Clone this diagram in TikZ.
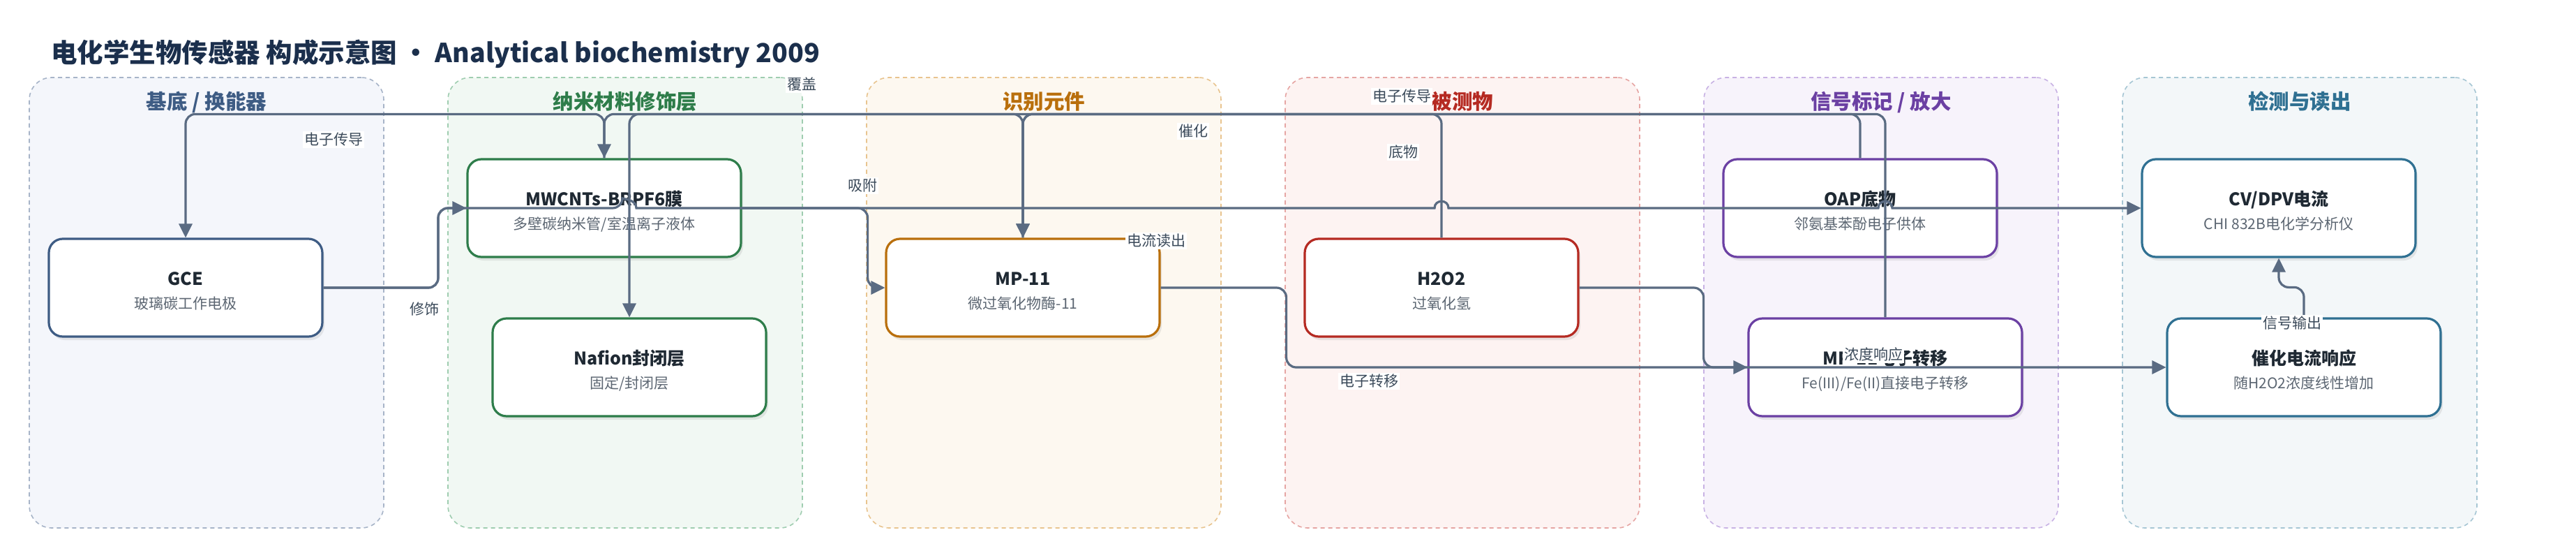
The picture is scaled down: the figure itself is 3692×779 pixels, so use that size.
\documentclass[tikz,border=0pt]{standalone}
\usepackage{fontspec}
\setmainfont{Noto Sans CJK SC}
\usetikzlibrary{arrows.meta,shadows}

\definecolor{ink}{HTML}{1B2F4C}
\definecolor{nodetxt}{HTML}{1F2933}
\definecolor{subtxt}{HTML}{5C6672}
\definecolor{lbltxt}{HTML}{3B4A5A}
\definecolor{edgec}{HTML}{5A6B82}
\definecolor{baseC}{HTML}{3E5C84}\definecolor{baseF}{HTML}{F4F6FB}\definecolor{baseD}{HTML}{A7B4C8}
\definecolor{nanoC}{HTML}{2E7D4A}\definecolor{nanoF}{HTML}{F1F8F3}\definecolor{nanoD}{HTML}{9FCDB0}
\definecolor{recoC}{HTML}{B96F0C}\definecolor{recoF}{HTML}{FDF8F0}\definecolor{recoD}{HTML}{E8C48F}
\definecolor{anaC}{HTML}{B52A22}\definecolor{anaF}{HTML}{FDF3F2}\definecolor{anaD}{HTML}{E6A5A3}
\definecolor{sigC}{HTML}{6B40A3}\definecolor{sigF}{HTML}{F7F3FB}\definecolor{sigD}{HTML}{C8B2E4}
\definecolor{detC}{HTML}{2F7092}\definecolor{detF}{HTML}{F3F7F9}\definecolor{detD}{HTML}{A6C6D4}

\tikzset{
  lane/.style 2 args={draw=#1, fill=#2, dash pattern=on 6pt off 5pt, line width=1.6,
    rounded corners=32, minimum width=508, minimum height=645},
  lanettl/.style={font=\fontsize{29.5}{33}\selectfont\bfseries, text=#1, anchor=base, inner sep=0},
  box/.style={draw=#1, fill=white, line width=3.2, rounded corners=20,
    minimum width=392, minimum height=140,
    drop shadow={opacity=0.16, shadow xshift=3pt, shadow yshift=-5pt}},
  ttl/.style={font=\fontsize{25}{30}\selectfont\bfseries, text=nodetxt, anchor=base, inner sep=0},
  sub/.style={font=\fontsize{21}{25}\selectfont, text=subtxt, anchor=base, inner sep=0},
  flow/.style={draw=edgec, line width=3.2, rounded corners=14, -{Triangle[length=20pt,width=19pt]}},
  lbl/.style={font=\fontsize{21}{25}\selectfont, text=lbltxt, fill=white, inner sep=2pt},
}

\begin{document}
\begin{tikzpicture}[x=1pt, y=-1pt]
  \fill[white] (0,0) rectangle (3692,779);
  \useasboundingbox (0,0) rectangle (3692,779);

  \node[font=\fontsize{37.5}{42}\selectfont\bfseries, text=ink, anchor=base west, inner sep=0] (title) at (73,89)
    {电化学生物传感器 构成示意图 · Analytical biochemistry 2009};

  % lanes
  \node[lane={baseD}{baseF}] (lane1) at (296,433.5) {};
  \node[lane={nanoD}{nanoF}] (lane2) at (896,433.5) {};
  \node[lane={recoD}{recoF}] (lane3) at (1496,433.5) {};
  \node[lane={anaD}{anaF}] (lane4) at (2096,433.5) {};
  \node[lane={sigD}{sigF}] (lane5) at (2696,433.5) {};
  \node[lane={detD}{detF}] (lane6) at (3296,433.5) {};
  \node[lanettl=baseC] (lane1-t) at (296,156) {基底 / 换能器};
  \node[lanettl=nanoC] (lane2-t) at (896,156) {纳米材料修饰层};
  \node[lanettl=recoC] (lane3-t) at (1496,156) {识别元件};
  \node[lanettl=anaC] (lane4-t) at (2096,156) {被测物};
  \node[lanettl=sigC] (lane5-t) at (2696,156) {信号标记 / 放大};
  \node[lanettl=detC] (lane6-t) at (3296,156) {检测与读出};

  % components
  \node[box=baseC] (gce) at (266,412) {};
  \node[ttl] (gce-t) at ([yshift=4pt]gce.center) {GCE};
  \node[sub] (gce-s) at ([yshift=-30pt]gce.center) {玻璃碳工作电极};

  \node[box=nanoC] (mw) at (866,298) {};
  \node[ttl] (mw-t) at ([yshift=4pt]mw.center) {MWCNTs-BRPF6膜};
  \node[sub] (mw-s) at ([yshift=-30pt]mw.center) {多壁碳纳米管/室温离子液体};

  \node[box=nanoC] (naf) at (902,526) {};
  \node[ttl] (naf-t) at ([yshift=4pt]naf.center) {Nafion封闭层};
  \node[sub] (naf-s) at ([yshift=-30pt]naf.center) {固定/封闭层};

  \node[box=recoC] (mp) at (1466,412) {};
  \node[ttl] (mp-t) at ([yshift=4pt]mp.center) {MP-11};
  \node[sub] (mp-s) at ([yshift=-30pt]mp.center) {微过氧化物酶-11};

  \node[box=anaC] (h2) at (2066,412) {};
  \node[ttl] (h2-t) at ([yshift=4pt]h2.center) {H2O2};
  \node[sub] (h2-s) at ([yshift=-30pt]h2.center) {过氧化氢};

  \node[box=sigC] (oap) at (2666,298) {};
  \node[ttl] (oap-t) at ([yshift=4pt]oap.center) {OAP底物};
  \node[sub] (oap-s) at ([yshift=-30pt]oap.center) {邻氨基苯酚电子供体};

  \node[box=sigC] (et) at (2702,526) {};
  \node[ttl] (et-t) at ([yshift=4pt]et.center) {MP-11电子转移};
  \node[sub] (et-s) at ([yshift=-30pt]et.center) {Fe(III)/Fe(II)直接电子转移};

  \node[box=detC] (cv) at (3266,298) {};
  \node[ttl] (cv-t) at ([yshift=4pt]cv.center) {CV/DPV电流};
  \node[sub] (cv-s) at ([yshift=-30pt]cv.center) {CHI 832B电化学分析仪};

  \node[box=detC] (resp) at (3302,526) {};
  \node[ttl] (resp-t) at ([yshift=4pt]resp.center) {催化电流响应};
  \node[sub] (resp-s) at ([yshift=-30pt]resp.center) {随H2O2浓度线性增加};

  % connectors
  \draw[flow] (gce.east) -| (628,298) -- (mw.west);
  \draw[flow] (gce.east) -| (628,298) -- (892,298) [sharp corners]
    .. controls (892,285) and (912,285) .. (912,298) -- (2056,298)
    .. controls (2056,285) and (2076,285) .. (2076,298) -- (2692,298)
    .. controls (2692,285) and (2712,285) .. (2712,298) -- (cv.west);
  \draw[flow] (mw.east) -- ++(180,0) |- (mp.west);
  \draw[flow] (mp.east) -- ++(180,0) |- (et.west);
  \draw[flow] (h2.east) -- ++(178,0) |- (resp.west);
  \draw[flow] (resp.north) -- ++(0,-43) -| (cv.south);
  \draw[flow] (mw.north) -- ++(0,-63) -| (gce.north);
  \draw[flow] (et.north) -- ++(0,-291) -| (mw.north);
  \draw[flow] (mp.north) -- ++(0,-177) -| (naf.north);
  \draw[flow] (oap.north) -- ++(0,-63) -| (mp.north);
  \draw[flow] (h2.north) -- ++(0,-177) -| (mp.north);

  % connector labels
  \node[lbl] (l-cond1) at (478,200) {电子传导};
  \node[lbl] (l-mod) at (608,443) {修饰};
  \node[lbl] (l-cover) at (1149,121) {覆盖};
  \node[lbl] (l-ads) at (1236,266) {吸附};
  \node[lbl] (l-cat) at (1710,188) {催化};
  \node[lbl] (l-read) at (1657,345) {电流读出};
  \node[lbl] (l-cond2) at (2009,138) {电子传导};
  \node[lbl] (l-sub) at (2011,218) {底物};
  \node[lbl] (l-et) at (1962,546) {电子转移};
  \node[lbl] (l-conc) at (2685,508) {浓度响应};
  \node[lbl] (l-out) at (3285,463) {信号输出};
\end{tikzpicture}
\end{document}
